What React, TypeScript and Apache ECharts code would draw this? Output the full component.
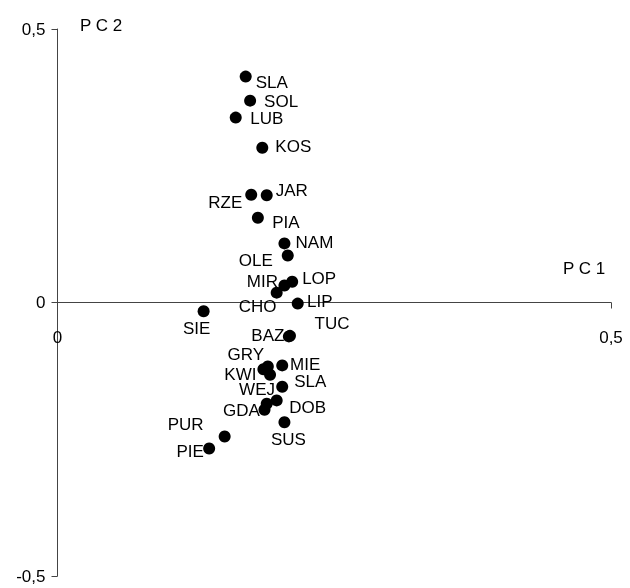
import React, { useEffect, useRef } from "react";
import * as echarts from "echarts";

const names = ["SLA", "SOL", "LUB", "KOS", "RZE", "JAR", "PIA", "NAM", "OLE", "MIR", "LOP", "CHO", "LIP", "SIE", "BAZ", "TUC", "GRY", "MIE", "KWI", "WEJ", "SLA", "DOB", "", "GDA", "SUS", "PUR", "PIE"];
const pc1 = [0.170, 0.174, 0.161, 0.185, 0.175, 0.189, 0.181, 0.205, 0.208, 0.205, 0.212, 0.198, 0.217, 0.132, 0.209, 0.210, 0.190, 0.203, 0.186, 0.192, 0.203, 0.198, 0.189, 0.187, 0.205, 0.151, 0.137];
const pc2 = [0.413, 0.369, 0.338, 0.283, 0.197, 0.196, 0.155, 0.108, 0.086, 0.031, 0.038, 0.018, -0.002, -0.016, -0.062, -0.061, -0.117, -0.115, -0.122, -0.132, -0.154, -0.179, -0.185, -0.196, -0.219, -0.245, -0.267];
const xTicks = ["0", "0,5"];
const yTickLabel = (v: number) => (v === 0 ? "0" : v > 0 ? "0,5" : "-0,5");

// label offsets (styling, relative to each point)
const labelOffsets: [number, number][] = [
  [26, 6], [31, 1], [31, 1], [31, -1], [-26, 8], [25, -5], [28, 5], [30, -1], [-32, 5], [-22, -4],
  [27, -3], [-19, 14], [22, -2], [-7, 17], [-21, -1], [42, -12], [-22, -12], [23, -1], [-23, 5], [-13, 15],
  [28, -5], [31, 7], [0, 0], [-23, 1], [4, 17], [-39, -12], [-19, 3],
];

const FONT = "'Liberation Sans', Arial, sans-serif";
const GRID_TOP = 29;
const GRID_BOTTOM_Y = 576;

export default function App() {
  const ref = useRef<HTMLDivElement>(null);
  useEffect(() => {
    if (!ref.current) return;
    const chart = echarts.init(ref.current, undefined, { renderer: "svg" });
    const data = pc1.map((x, i) => ({
      value: [x, pc2[i]],
      name: names[i],
      label: { offset: labelOffsets[i] },
    }));
    const zeroY = (GRID_TOP + GRID_BOTTOM_Y) / 2;
    chart.setOption({
      animation: false,
      grid: {
        left: 57.5,
        right: 19,
        top: GRID_TOP,
        bottom: 588 - GRID_BOTTOM_Y,
        containLabel: false,
        outerBoundsMode: "none",
      },
      xAxis: {
        type: "value",
        min: 0,
        max: 0.5,
        interval: 0.5,
        offset: -(GRID_BOTTOM_Y - zeroY),
        splitLine: { show: false },
        axisLine: { onZero: false, lineStyle: { color: "#444", width: 1 } },
        axisTick: { show: true, length: 6, lineStyle: { color: "#444" } },
        axisLabel: {
          margin: 26,
          color: "#000",
          fontSize: 17,
          fontFamily: FONT,
          formatter: (v: number) => (v === 0 ? xTicks[0] : xTicks[1]),
        },
      },
      yAxis: {
        type: "value",
        min: -0.5,
        max: 0.5,
        interval: 0.5,
        splitLine: { show: false },
        axisLine: { onZero: false, lineStyle: { color: "#444", width: 1 } },
        axisTick: { show: true, length: 6, lineStyle: { color: "#444" } },
        axisLabel: {
          margin: 12,
          color: "#000",
          fontSize: 17,
          fontFamily: FONT,
          formatter: yTickLabel,
        },
      },
      graphic: [
        { type: "text", left: 80, top: 17, style: { text: "P C 2", fontSize: 17, fontFamily: FONT, fill: "#000" } },
        { type: "text", left: 563, top: 260, style: { text: "P C 1", fontSize: 17, fontFamily: FONT, fill: "#000" } },
      ],
      series: [
        {
          type: "scatter",
          symbol: "circle",
          symbolSize: 12,
          itemStyle: { color: "#000", opacity: 1 },
          label: {
            show: true,
            position: "inside",
            formatter: "{b}",
            color: "#000",
            fontSize: 17,
            fontFamily: FONT,
            align: "center",
            verticalAlign: "middle",
          },
          emphasis: { disabled: true },
          data,
        },
      ],
    });
    return () => chart.dispose();
  }, []);
  return <div ref={ref} style={{ position: "fixed", left: 0, top: 0, width: 630, height: 588 }} />;
}
